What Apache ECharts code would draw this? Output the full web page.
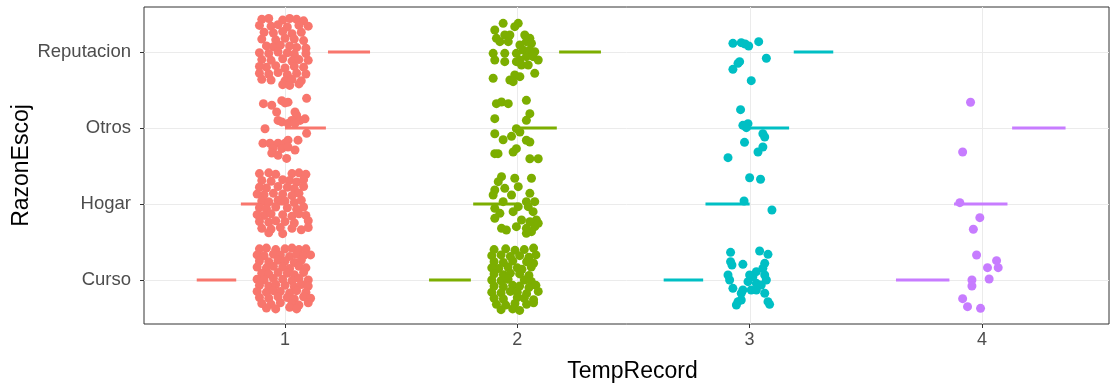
<!DOCTYPE html>
<html>
<head>
<meta charset="utf-8">
<script src="https://cdn.jsdelivr.net/npm/echarts@6/dist/echarts.min.js"></script>
<style>html,body{margin:0;padding:0;background:#fff;overflow:hidden;width:100%;height:100%;}#c{width:100vw;height:100vh;}</style>
</head>
<body>
<div id="c"></div>
<script>
const categories = ['Curso', 'Hogar', 'Otros', 'Reputacion'];
const xTicks = [1, 2, 3, 4];
const yTicks = [1, 2, 3, 4];
const groups = ['1', '2', '3', '4'];
const colors = ['#F8766D', '#7CAE00', '#00BFC4', '#C77CFF'];

// jittered points [TempRecord, RazonEscoj position]
const pts1 = [
  // Reputacion
  [0.90,4.43],[0.93,4.44],[0.99,4.42],[1.02,4.44],[1.05,4.43],[1.08,4.41],
  [0.89,4.35],[0.94,4.34],[0.97,4.36],[1.01,4.33],[1.06,4.35],[1.10,4.34],
  [0.91,4.26],[0.95,4.25],[0.99,4.27],[1.03,4.24],[1.07,4.26],
  [0.90,4.17],[0.96,4.16],[1.00,4.18],[1.04,4.17],[1.08,4.15],
  [0.92,4.08],[0.95,4.07],[0.98,4.09],[1.02,4.08],[1.05,4.06],[1.09,4.05],
  [0.89,3.99],[0.93,3.98],[0.97,4.00],[1.01,3.99],[1.04,3.97],[1.09,3.98],
  [0.90,3.90],[0.94,3.89],[0.99,3.91],[1.03,3.88],[1.06,3.90],[1.10,3.89],
  [0.89,3.81],[0.92,3.80],[0.96,3.82],[1.00,3.79],[1.04,3.81],[1.08,3.80],
  [0.89,3.72],[0.93,3.71],[0.97,3.73],[1.01,3.70],[1.05,3.72],[1.09,3.71],
  [0.90,3.64],[0.94,3.63],[1.00,3.62],[1.03,3.64],[1.07,3.62],
  [0.99,3.57],[1.02,3.56],[1.06,3.58],
  // Otros
  [0.907,3.32],[0.943,3.30],[0.986,3.36],[1.013,3.34],[1.0,3.33],[1.093,3.39],
  [0.964,3.21],[0.97,3.10],[0.986,3.08],[1.043,3.21],[1.05,3.17],[1.029,3.10],
  [1.065,3.10],[1.086,3.12],[1.013,3.06],[1.043,3.06],[0.914,2.99],[1.093,2.93],
  [1.056,2.84],[0.905,2.80],[0.935,2.80],[0.97,2.80],[1.013,2.84],[1.0,2.80],
  [0.948,2.73],[0.986,2.73],[1.013,2.75],[0.943,2.67],[0.97,2.64],[1.007,2.60],[1.043,2.71],
  // Hogar
  [0.89,2.40],[0.93,2.41],[0.96,2.39],[1.03,2.40],[1.06,2.41],[1.09,2.39],
  [0.90,2.31],[0.94,2.30],[0.99,2.32],[1.02,2.31],[1.05,2.29],[1.08,2.32],
  [0.89,2.22],[0.92,2.21],[0.97,2.23],[1.01,2.22],[1.04,2.20],[1.08,2.23],
  [0.88,2.13],[0.91,2.12],[0.95,2.14],[0.99,2.13],[1.03,2.11],[1.06,2.14],
  [0.90,2.04],[0.93,2.03],[0.97,2.05],[1.00,2.04],[1.04,2.02],[1.07,2.05],
  [0.89,1.95],[0.92,1.94],[0.96,1.96],[1.01,1.95],[1.05,1.93],[1.08,1.96],
  [0.88,1.86],[0.91,1.85],[0.94,1.87],[0.99,1.86],[1.03,1.84],[1.06,1.87],[1.09,1.85],
  [0.89,1.77],[0.93,1.76],[0.96,1.78],[1.00,1.77],[1.04,1.75],[1.10,1.78],
  [0.90,1.68],[0.94,1.67],[0.98,1.69],[1.03,1.68],[1.07,1.66],[1.10,1.69],
  [0.93,1.62],[0.99,1.61],
  // Curso
  [0.89,1.41],[0.92,1.42],[0.96,1.40],[1.00,1.41],[1.03,1.42],[1.06,1.40],[1.09,1.41],
  [0.88,1.33],[0.91,1.32],[0.95,1.34],[0.98,1.33],[1.02,1.31],[1.05,1.34],[1.08,1.32],[1.11,1.33],
  [0.89,1.25],[0.93,1.24],[0.97,1.26],[1.00,1.25],[1.04,1.23],[1.07,1.26],
  [0.88,1.17],[0.92,1.16],[0.95,1.18],[0.99,1.17],[1.02,1.15],[1.06,1.18],[1.09,1.16],
  [0.90,1.09],[0.93,1.08],[0.97,1.10],[1.01,1.09],[1.04,1.07],[1.08,1.10],
  [0.88,1.01],[0.91,1.00],[0.95,1.02],[0.99,1.01],[1.03,0.99],[1.06,1.02],[1.10,1.00],
  [0.89,0.93],[0.93,0.92],[0.96,0.94],[1.00,0.93],[1.04,0.91],[1.07,0.94],[1.10,0.92],
  [0.88,0.85],[0.92,0.84],[0.95,0.86],[0.98,0.85],[1.02,0.83],[1.05,0.86],[1.09,0.84],
  [0.89,0.77],[0.93,0.76],[0.97,0.78],[1.01,0.77],[1.04,0.75],[1.08,0.78],[1.11,0.76],
  [0.90,0.69],[0.94,0.68],[0.98,0.70],[1.03,0.69],[1.06,0.67],[1.10,0.70],
  [0.92,0.63],[0.96,0.62],[1.02,0.64],[1.05,0.62]
];
const pts2 = [
  // Reputacion
  [1.939,4.377],[2.004,4.377],[1.989,4.333],[1.903,4.289],[1.946,4.224],[1.968,4.224],
  [1.910,4.18],[1.925,4.136],[1.961,4.136],[2.032,4.224],[2.054,4.18],[2.039,4.136],
  [2.011,4.092],[2.061,4.114],[2.025,4.026],[2.054,4.026],[2.075,4.004],[1.996,3.982],
  [2.039,3.939],[2.068,3.939],[2.09,3.895],[2.011,3.895],[1.896,3.982],[1.903,3.895],
  [1.946,3.982],[1.946,3.873],[1.996,3.873],[2.018,3.829],[2.047,3.829],[1.896,3.654],
  [1.968,3.632],[1.989,3.697],[2.011,3.675],[2.075,3.719],[1.982,3.61],
  // Otros
  [1.910,3.32],[1.932,3.342],[1.961,3.32],[2.039,3.364],[2.054,3.189],[2.039,3.101],
  [1.903,3.123],[1.996,2.991],[2.011,2.947],[1.903,2.925],[1.939,2.846],[1.975,2.89],
  [2.039,2.838],[2.054,2.816],[1.903,2.662],[1.917,2.662],[1.982,2.684],[1.996,2.728],
  [2.054,2.596],[2.09,2.596],
  // Hogar
  [1.932,2.36],[1.918,2.294],[1.903,2.184],[1.896,2.118],[1.989,2.338],[2.061,2.338],
  [1.946,2.206],[1.975,2.118],[2.004,2.228],[2.054,2.14],[1.939,2.031],[1.903,1.943],
  [1.925,1.877],[1.903,1.811],[1.982,1.899],[2.004,1.965],[2.039,2.031],[2.075,2.031],
  [2.047,1.965],[2.068,1.899],[2.018,1.789],[1.996,1.702],[2.082,1.789],[2.054,1.768],
  [2.075,1.702],[2.039,1.68],[2.061,1.636],[2.09,1.746],[1.932,1.68],[1.953,1.658],[2.039,1.614],
  // Curso
  [1.90,1.40],[1.95,1.41],[1.99,1.39],[2.03,1.40],[2.07,1.42],
  [1.89,1.32],[1.93,1.33],[1.97,1.31],[2.01,1.32],[2.05,1.30],[2.08,1.33],
  [1.90,1.24],[1.94,1.23],[1.98,1.25],[2.04,1.24],[2.07,1.22],
  [1.89,1.16],[1.92,1.15],[1.96,1.17],[2.00,1.16],[2.02,1.14],[2.06,1.17],
  [1.90,1.08],[1.94,1.07],[1.97,1.09],[2.01,1.08],[2.05,1.06],
  [1.89,1.00],[1.93,0.99],[1.96,1.01],[2.03,1.00],[2.06,0.98],
  [1.90,0.92],[1.94,0.91],[1.98,0.93],[2.01,0.92],[2.05,0.90],[2.08,0.93],
  [1.89,0.84],[1.93,0.83],[1.97,0.85],[2.00,0.84],[2.04,0.82],[2.09,0.85],
  [1.90,0.76],[1.94,0.75],[2.00,0.77],[2.03,0.76],[2.07,0.74],
  [1.91,0.68],[1.95,0.67],[1.99,0.69],[2.04,0.68],[2.07,0.70],
  [1.93,0.61],[1.98,0.62],[2.01,0.60]
];
const pts3 = [
  // Reputacion
  [2.928,4.114],[2.964,4.123],[2.981,4.105],[2.996,4.079],[3.039,4.136],[3.072,3.917],
  [2.957,3.873],[2.95,3.851],[2.928,3.772],[3.007,3.623],
  // Otros
  [2.961,3.241],[2.971,3.035],[2.993,3.057],[2.986,3.004],[3.057,2.925],[3.065,2.882],
  [2.978,2.811],[3.057,2.75],[3.036,2.684],[2.907,2.61],
  // Hogar
  [3.0,2.346],[3.047,2.325],[2.976,2.039],[3.096,1.921],
  // Curso
  [2.918,1.364],[3.043,1.382],[3.079,1.338],[2.918,1.241],[2.924,1.197],[2.971,1.206],
  [3.065,1.219],[3.057,1.154],[3.029,1.11],[3.014,1.044],[3.0,1.066],[2.907,1.066],
  [2.914,1.0],[3.065,1.066],[3.072,1.0],[2.993,0.978],[3.029,0.956],[3.05,0.934],
  [2.928,0.89],[2.971,0.868],[2.964,0.825],[3.007,0.868],[3.029,0.868],[3.065,0.825],
  [3.079,0.715],[2.95,0.715],[2.964,0.737],[2.943,0.671],[3.086,0.68]
];
const pts4 = [
  // Otros
  [3.951,3.338],[3.917,2.684],
  // Hogar
  [3.905,2.018],[3.991,1.82],[3.963,1.667],
  // Curso
  [3.977,1.329],[4.063,1.254],[4.024,1.162],[4.07,1.162],[4.031,1.013],[3.957,1.0],
  [3.957,0.921],[3.917,0.754],[3.938,0.649],[3.994,0.627]
];
// horizontal segments [xStart, xEnd, RazonEscoj position]
const seg1 = [[1.185,1.366,4],[1.0,1.176,3],[0.81,1.0,2],[0.62,0.79,1]];
const seg2 = [[2.18,2.36,4],[2.0,2.17,3],[1.81,2.0,2],[1.62,1.80,1]];
const seg3 = [[3.19,3.36,4],[3.0,3.17,3],[2.81,3.0,2],[2.63,2.80,1]];
const seg4 = [[4.13,4.36,3],[3.88,4.11,2],[3.63,3.86,1]];

const ptsAll = [pts1, pts2, pts3, pts4];
const segAll = [seg1, seg2, seg3, seg4];

const chart = echarts.init(document.getElementById('c'), null, {renderer: 'canvas'});
const FONT = '"Liberation Sans", Arial, sans-serif';

const gridData = xTicks.map(v => [0, v]).concat(yTicks.map(v => [1, v]));
const series = [];
series.push({
  type: 'custom', z: 1, silent: true, data: gridData,
  renderItem: (params, api) => {
    const cs = params.coordSys;
    const kind = api.value(0), v = api.value(1);
    if (kind === 0) {
      const x = Math.round(api.coord([v, 1])[0]) + 0.5;
      return {type: 'line', shape: {x1: x, y1: cs.y, x2: x, y2: cs.y + cs.height},
              style: {stroke: '#EBEBEB', lineWidth: 1}};
    }
    const y = Math.round(api.coord([1, v])[1]) + 0.5;
    return {type: 'line', shape: {x1: cs.x, y1: y, x2: cs.x + cs.width, y2: y},
            style: {stroke: '#EBEBEB', lineWidth: 1}};
  }
});
segAll.forEach((segs, gi) => {
  series.push({
    type: 'custom', name: groups[gi], z: 2, silent: true,
    data: segs,
    renderItem: (params, api) => {
      const y = api.value(2);
      const p0 = api.coord([api.value(0), y]);
      const p1 = api.coord([api.value(1), y]);
      return {type: 'line', shape: {x1: p0[0], y1: p0[1], x2: p1[0], y2: p1[1]},
              style: {stroke: colors[gi], lineWidth: 3}};
    }
  });
});
ptsAll.forEach((pts, gi) => {
  series.push({
    type: 'scatter', name: groups[gi], z: 3, silent: true,
    data: pts, symbol: 'circle', symbolSize: 9,
    itemStyle: {color: colors[gi], opacity: 1}
  });
});

chart.setOption({
  animation: false,
  backgroundColor: '#ffffff',
  grid: {left: 144, right: 2, top: 7, bottom: 59, show: true, borderColor: '#333333', borderWidth: 1,
         backgroundColor: '#ffffff', containLabel: false, outerBoundsMode: 'none'},
  xAxis: {
    type: 'value', min: 0.393, max: 4.547,
    name: 'TempRecord', nameLocation: 'middle', nameGap: 36, nameMoveOverlap: false,
    nameTextStyle: {fontSize: 23, color: '#000000', fontFamily: FONT, padding: [0, 0, 0, 12]},
    axisLine: {show: false},
    axisTick: {show: true, length: 4, customValues: xTicks, lineStyle: {color: '#333333'}},
    axisLabel: {customValues: xTicks, color: '#4D4D4D', fontSize: 18, fontFamily: FONT, margin: 7},
    splitLine: {show: false}
  },
  yAxis: {
    type: 'value', min: 0.421, max: 4.592,
    name: 'RazonEscoj', nameLocation: 'middle', nameGap: 111, nameRotate: 90, nameMoveOverlap: false,
    nameTextStyle: {fontSize: 23, color: '#000000', fontFamily: FONT},
    axisLine: {show: false},
    axisTick: {show: true, length: 4, customValues: yTicks, lineStyle: {color: '#333333'}},
    axisLabel: {customValues: yTicks, color: '#4D4D4D', fontSize: 18.5, fontFamily: FONT, margin: 13,
      formatter: v => categories[Math.round(v) - 1]},
    splitLine: {show: false}
  },
  series: series
});
</script>
</body>
</html>
